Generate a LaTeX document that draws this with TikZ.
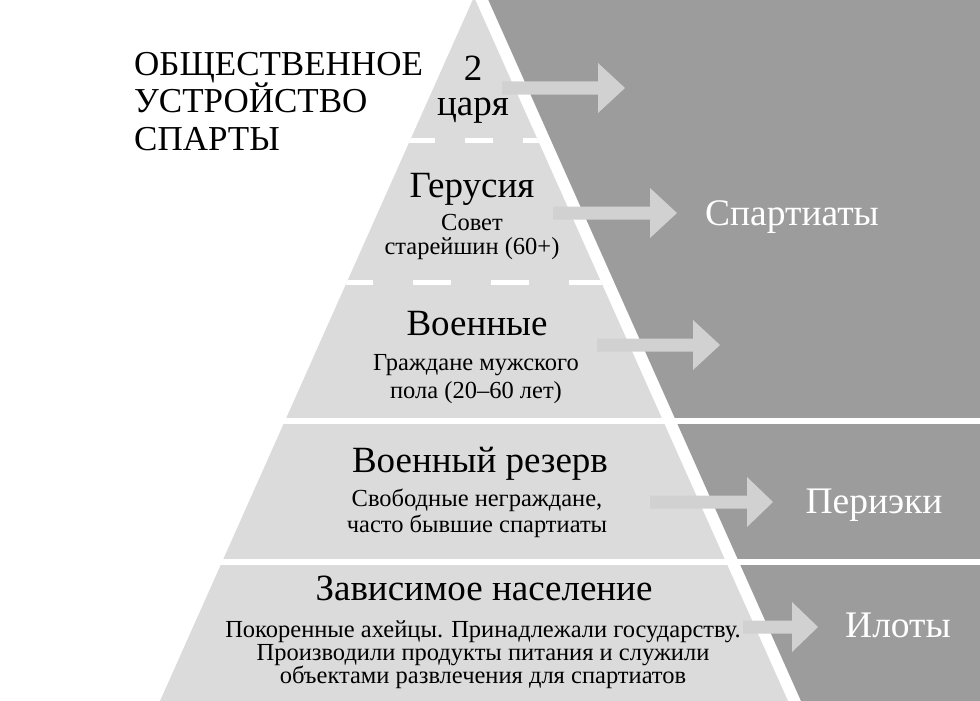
\documentclass[tikz,border=0pt]{standalone}
\usepackage{fontspec}
\setmainfont{Liberation Serif}

\definecolor{pyramidgray}{gray}{0.86}
\definecolor{arrowgray}{gray}{0.82}
\definecolor{classgray}{gray}{0.61}

\begin{document}
\begin{tikzpicture}[x=1pt,y=-1pt,
    heading/.style={
% The font:
font={\fontsize{35}{37.5}\selectfont\lineskiplimit=-40pt\relax},
% The placement:
align=left, anchor=base west, inner sep=0pt
},
    tier/.style={
% The font:
font={\fontsize{37}{35}\selectfont\lineskiplimit=-40pt\relax},
% The placement:
align=center, anchor=base, inner sep=0pt
},
    note/.style={
% The font (#1 is the line distance):
font={\fontsize{24.5}{#1}\selectfont\lineskiplimit=-40pt\relax},
% The placement:
align=center, anchor=base, inner sep=0pt
},
    classlabel/.style={
% The font:
font=\fontsize{37.5}{40}\selectfont,
% The colour:
text=white, anchor=base, inner sep=0pt
},
    gap/.style={white, line width=6pt},
    block/.style={fill=arrowgray},
]
  \useasboundingbox (0,0) rectangle (980,701);

  % background areas
  \fill[classgray]   (487,-3) -- (980,-3) -- (980,701) -- (801,701) -- cycle;
  \fill[pyramidgray] (474,-3) -- (788,701) -- (160,701) -- cycle;

  % solid borders
  \draw[gap] (0,421) -- (980,421);
  \draw[gap] (0,562) -- (980,562);

  % dashed borders
  \begin{scope}
    \clip (474,-3) -- (788,701) -- (160,701) -- cycle;
    \draw[white,line width=5pt,dash pattern=on 28pt off 30pt] (349,140) -- (600,140);
    \draw[white,line width=5pt,dash pattern=on 38pt off 40pt] (335,282) -- (640,282);
  \end{scope}

  % block arrows
  \fill[block] (502,81.5)  -- ++(96,0) -- ++(0,-18.5) -- ++(27,25) -- ++(-27,25) -- ++(0,-18.5) -- ++(-96,0) -- cycle;
  \fill[block] (553,206.5) -- ++(97,0) -- ++(0,-18.5) -- ++(27,25) -- ++(-27,25) -- ++(0,-18.5) -- ++(-97,0) -- cycle;
  \fill[block] (597,338.5) -- ++(96,0) -- ++(0,-18.5) -- ++(27,25) -- ++(-27,25) -- ++(0,-18.5) -- ++(-96,0) -- cycle;
  \fill[block] (650,495.5) -- ++(97,0) -- ++(0,-18.5) -- ++(26,25) -- ++(-26,25) -- ++(0,-18.5) -- ++(-97,0) -- cycle;
  \fill[block] (743,620.5) -- ++(49,0) -- ++(0,-18.5) -- ++(26,25) -- ++(-26,25) -- ++(0,-18.5) -- ++(-49,0) -- cycle;

  % title
  \node[heading] (society) at (134,150) {ОБЩЕСТВЕННОЕ\\УСТРОЙСТВО\\СПАРТЫ};

  % tiers
  \node[tier]    (kings)     at (473,115) {2\\царя};
  \node[tier]    (gerousia)  at (472,197) {Герусия};
  \node[note=24] (elders)    at (472,254) {Совет\\старейшин (60+)};
  \node[tier]    (military)  at (477,335) {Военные};
  \node[note=28] (citizens)  at (476,398) {Граждане мужского\\пола (20--60 лет)};
  \node[tier]    (reserve)   at (480,472) {Военный резерв};
  \node[note=26] (free)      at (477,532) {Свободные неграждане,\\часто бывшие спартиаты};
  \node[tier]    (dependent) at (484,600) {Зависимое население};
  \node[note=23] (achaeans)  at (483,683) {Покоренные ахейцы. Принадлежали государству.\\Производили продукты питания и служили\\объектами развлечения для спартиатов};

  % classes
  \node[classlabel] (spartiates) at (792,225) {Спартиаты};
  \node[classlabel] (perioeci)   at (874,513) {Периэки};
  \node[classlabel] (helots)     at (898,637) {Илоты};
\end{tikzpicture}
\end{document}
